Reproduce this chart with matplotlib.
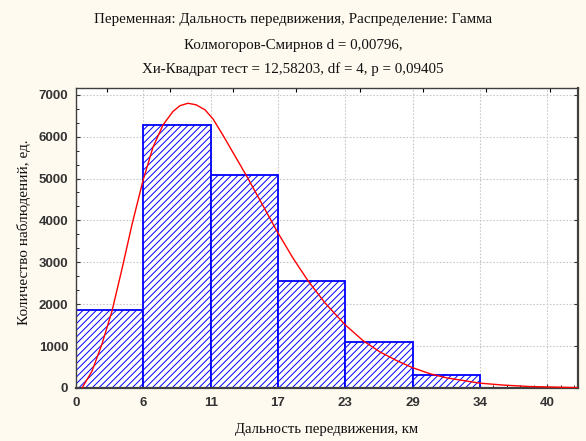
import matplotlib
matplotlib.use("Agg")
import matplotlib.pyplot as plt
from matplotlib.ticker import AutoMinorLocator

# ---- data ----
bin_edges = [0, 5.7, 11.4, 17.1, 22.8, 28.5, 34.2, 39.9]
tick_labels = ['0', '6', '11', '17', '23', '29', '34', '40']
counts = [1850, 6280, 5090, 2550, 1100, 310, 0]

curve_x = [0.51, 1.35, 2.20, 3.05, 3.90, 4.74, 5.67, 6.52, 7.37, 8.21, 8.81, 9.48,
           10.16, 10.92, 11.60, 12.45, 13.29, 13.89, 14.48, 15.58, 17.02, 18.37,
           19.64, 21.08, 22.78, 24.30, 25.74, 27.18, 28.45, 29.97, 31.41, 34.21,
           36.16, 38.44, 42.5]
curve_y = [0, 400, 1050, 1840, 2850, 3900, 4950, 5750, 6280, 6600, 6740, 6795,
           6760, 6640, 6421, 6030, 5620, 5330, 5040, 4480, 3740, 3100,
           2560, 2030, 1510, 1130, 860, 650, 490, 340, 240, 115,
           70, 35, 8]

y_ticks = [0, 1000, 2000, 3000, 4000, 5000, 6000, 7000]
top_ticks = [2.62, 7.96, 13.29, 18.66, 24.02, 29.38, 34.74, 40.1]

title_lines = ["Переменная: Дальность передвижения, Распределение: Гамма",
               "Колмогоров-Смирнов d = 0,00796,",
               "Хи-Квадрат тест = 12,58203, df = 4, p = 0,09405"]
xlabel = "Дальность передвижения, км"
ylabel = "Количество наблюдений, ед."

# ---- figure ----
bg = '#fffaf0'
plt.rcParams['hatch.linewidth'] = 0.7
plt.rcParams['hatch.color'] = '#2020ff'
fig = plt.figure(figsize=(5.86, 4.41), dpi=100, facecolor=bg)
ax = fig.add_axes([76/586, 1-388/441, (578-76)/586, (388-88)/441])
ax.set_facecolor('white')

widths = [bin_edges[i+1] - bin_edges[i] for i in range(len(counts))]
ax.bar(bin_edges[:-1], counts, width=widths, align='edge', facecolor='white',
       edgecolor='#0000ff', linewidth=1.3, hatch='/////', zorder=2)
ax.plot(curve_x, curve_y, color='#ff0000', linewidth=1.0, zorder=3)

ax.set_xlim(0, 42.5)
ax.set_ylim(0, 7160)
ax.set_xticks(bin_edges)
ax.set_xticklabels(tick_labels)
ax.set_yticks(y_ticks)
ax.xaxis.set_minor_locator(AutoMinorLocator(5))
ax.yaxis.set_minor_locator(AutoMinorLocator(3))

ax.grid(True, which='major', color='#c8c8c8', linestyle=(0, (1.5, 1.5)), linewidth=0.8)
ax.set_axisbelow(True)

ax.tick_params(axis='both', which='major', direction='in', length=3, width=0.8,
               labelsize=9.5, colors='#333333')
ax.tick_params(axis='x', which='major', pad=6.5)
ax.tick_params(axis='y', which='major', pad=5.5)
ax.tick_params(axis='both', which='minor', direction='in', length=2, width=0.6)
ax.tick_params(axis='y', which='major', right=True)
for lab in ax.get_xticklabels() + ax.get_yticklabels():
    lab.set_fontweight('bold')
    lab.set_family('Liberation Sans')

sec = ax.secondary_xaxis('top')
sec.set_xticks(top_ticks)
sec.set_xticklabels([])
sec.tick_params(direction='in', length=3, width=0.8)
sec.spines['top'].set_visible(False)

for side in ['left', 'top']:
    ax.spines[side].set_color('#404040')
    ax.spines[side].set_linewidth(1.0)
for side in ['right', 'bottom']:
    ax.spines[side].set_color('#404040')
    ax.spines[side].set_linewidth(1.6)

serif = 'Liberation Serif'
ys = [1-20/441, 1-45/441, 1-69/441]
for t, yy in zip(title_lines, ys):
    fig.text(0.5, yy, t, ha='center', va='center', fontsize=10.8, family=serif, color='#111111')

fig.text(327/586, 1-430/441, xlabel, ha='center', va='center', fontsize=10.6, family=serif, color='#111111')
fig.text(24/586, 1-232/441, ylabel, ha='center', va='center', rotation=90, fontsize=11, family=serif, color='#111111')

fig.savefig('out.png', dpi=100, facecolor=bg)
